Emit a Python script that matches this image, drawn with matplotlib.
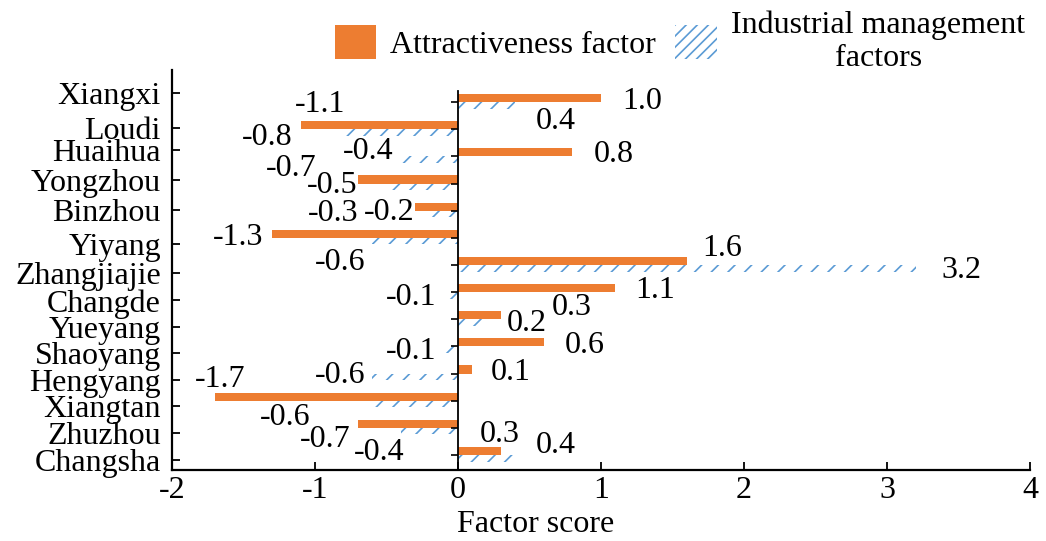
import numpy as np
import matplotlib.pyplot as plt
from matplotlib.patches import Patch

plt.rcParams['font.family'] = ['Liberation Serif', 'DejaVu Serif']

# data, bottom to top
cities = ['Changsha', 'Zhuzhou', 'Xiangtan', 'Hengyang', 'Shaoyang', 'Yueyang', 'Changde',
          'Zhangjiajie', 'Yiyang', 'Binzhou', 'Yongzhou', 'Huaihua', 'Loudi', 'Xiangxi']
attract = [0.3, -0.7, -1.7, 0.1, 0.6, 0.3, 1.1, 1.6, -1.3, -0.3, -0.7, 0.8, -1.1, 1.0]
manage = [0.4, -0.4, -0.6, -0.6, -0.1, 0.2, -0.1, 3.2, -0.6, -0.2, -0.5, -0.4, -0.8, 0.4]

# layout: where the value labels sit relative to the bar end (data units)
attract_off = [(-0.007, 0.77), (-0.228, -0.41), (0.039, 0.79), (0.27, 0.05), (0.286, 0.04),
               (0.496, 0.44), (0.282, 0.07), (0.249, 0.61), (-0.235, 0.01), (-0.572, -0.1),
               (-0.465, 0.55), (0.289, 0.07), (0.137, 0.9), (0.29, 0.01)]
manage_off = [(0.284, 0.37), (-0.151, -0.89), (-0.607, -0.6), (-0.223, -0.06), (-0.228, -0.18),
              (0.281, -0.15), (-0.228, -0.19), (0.324, -0.2), (-0.223, -0.9), (-0.281, -0.07),
              (-0.379, -0.07), (-0.228, 0.18), (-0.533, -0.31), (0.284, -0.72)]
# the category labels in the original are not evenly spaced
label_pos = [-0.18, 0.82, 1.81, 2.78, 3.76, 4.71, 5.7, 6.7, 7.78, 9.03, 10.13, 11.23, 12.06, 13.33]

orange = '#ED7D31'
blue = '#5B9BD5'
fs = 23

fig = plt.figure(figsize=(10.46, 5.41), dpi=100)
ax = fig.add_axes([0.1644, 0.1312, 0.8203, 0.7394])

y = np.arange(len(cities))
ax.barh(y, attract, height=0.3, align='edge', color=orange, lw=0)
plt.rcParams['hatch.linewidth'] = 1.2
ax.barh(y, manage, height=-0.24, align='edge', facecolor='none', edgecolor=blue, hatch='//', lw=0)

for i in range(len(cities)):
    ax.text(attract[i] + attract_off[i][0], i + attract_off[i][1], '%.1f' % attract[i],
            ha='center', va='center', fontsize=fs)
    ax.text(manage[i] + manage_off[i][0], i + manage_off[i][1], '%.1f' % manage[i],
            ha='center', va='center', fontsize=fs)

# zero line with its own small ticks
ax.plot([0, 0], [-0.55, 13.42], color='black', lw=1.3)
ax.plot(np.zeros(len(cities)), y, ls='none', marker=0, ms=5, mew=1.2, color='black')

ax.set_xlim(-2, 4)
ax.set_ylim(-0.55, 14.18)
ax.set_xticks(range(-2, 5))
ax.set_xticklabels([str(v) for v in range(-2, 5)], fontsize=fs)
ax.set_yticks(label_pos)
ax.set_yticklabels(cities, fontsize=fs)
ax.tick_params(axis='both', direction='in', length=5.5, width=1.3)
ax.tick_params(axis='x', pad=4)
ax.tick_params(axis='y', pad=8)
for s in ['top', 'right']:
    ax.spines[s].set_visible(False)
for s in ['left', 'bottom']:
    ax.spines[s].set_linewidth(1.6)

ax.set_xlabel('Factor score', fontsize=fs)
ax.xaxis.set_label_coords(0.424, -0.1)

handles = [Patch(facecolor=orange, lw=0),
           Patch(facecolor='none', edgecolor=blue, hatch='///', lw=0)]
leg = fig.legend(handles, ['Attractiveness factor', 'Industrial management\nfactors'],
                 ncol=2, frameon=False, fontsize=fs, loc='center',
                 bbox_to_anchor=(680 / 1046, 1 - 42 / 541),
                 handlelength=1.3, handleheight=1.25, handletextpad=0.45,
                 columnspacing=0.6, borderpad=0, borderaxespad=0)
leg.get_texts()[1].set_multialignment('center')

fig.savefig('out.png', dpi=100)
